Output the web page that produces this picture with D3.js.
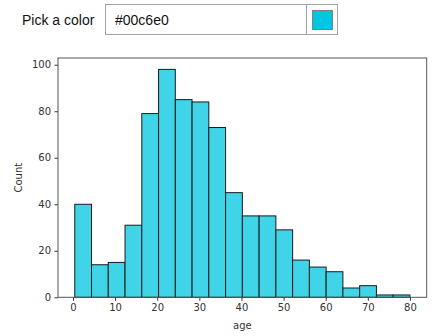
<!DOCTYPE html>
<html>
<head>
<meta charset="utf-8">
<script src="https://cdn.jsdelivr.net/npm/d3@7"></script>
<style>
  html, body { margin: 0; padding: 0; background: #fff; }
  svg { display: block; }
</style>
</head>
<body>
<svg id="chart" width="437" height="336"></svg>
<script>
// ---- data ----
const pickedColor = "#00c6e0";
const binStart = 0.42;
const binEnd = 80;
const binCount = 20;
const counts = [40, 14, 15, 31, 79, 98, 85, 84, 73, 45, 35, 35, 29, 16, 13, 11, 4, 5, 1, 1];
const xTicks = [0, 10, 20, 30, 40, 50, 60, 70, 80];
const yTicks = [0, 20, 40, 60, 80, 100];
const xLabel = "age";
const yLabel = "Count";
const widgetLabel = "Pick a color";

const binWidth = (binEnd - binStart) / binCount;
const bins = counts.map((c, i) => ({ x0: binStart + i * binWidth, x1: binStart + (i + 1) * binWidth, count: c }));

const svg = d3.select("#chart");

// ---- color picker widget ----
const w = svg.append("g");
w.append("text").attr("x", 22).attr("y", 25)
  .attr("font-family", "Liberation Sans, Arial, sans-serif").attr("font-size", 14)
  .attr("fill", "#111").text(widgetLabel);
w.append("rect").attr("x", 105.5).attr("y", 4.5).attr("width", 232).attr("height", 30)
  .attr("fill", "#fff").attr("stroke", "#a0a0a0").attr("stroke-width", 1);
w.append("line").attr("x1", 306.5).attr("x2", 306.5).attr("y1", 4.5).attr("y2", 34.5)
  .attr("stroke", "#a0a0a0");
w.append("text").attr("x", 115).attr("y", 25)
  .attr("font-family", "Liberation Sans, Arial, sans-serif").attr("font-size", 14)
  .attr("fill", "#111").text(pickedColor);
w.append("rect").attr("x", 312.5).attr("y", 10.5).attr("width", 20).attr("height", 19)
  .attr("fill", pickedColor).attr("stroke", "#808080").attr("stroke-width", 1);

// ---- chart ----
const pL = 58, pR = 426.7, pT = 58, pB = 297.3;
const span = binEnd - binStart;
const x = d3.scaleLinear().domain([binStart - 0.05 * span, binEnd + 0.05 * span]).range([pL, pR]);
const yMax = d3.max(counts) * 1.05;
const y = d3.scaleLinear().domain([0, yMax]).range([pB, pT]);

const col = d3.color(pickedColor);
const fill = d3.rgb(col.r * 0.75 + 255 * 0.25, col.g * 0.75 + 255 * 0.25, col.b * 0.75 + 255 * 0.25);

svg.append("g").selectAll("rect").data(bins).join("rect")
  .attr("x", d => x(d.x0))
  .attr("y", d => y(d.count))
  .attr("width", d => x(d.x1) - x(d.x0))
  .attr("height", d => y(0) - y(d.count))
  .attr("fill", fill.formatHex())
  .attr("stroke", "#1a1a1a")
  .attr("stroke-width", 1);

const font = "DejaVu Sans, sans-serif";
const xAxis = svg.append("g").attr("transform", `translate(0,${pB})`)
  .call(d3.axisBottom(x).tickValues(xTicks).tickSize(3.5).tickPadding(3.5).tickFormat(d3.format("d")));
const yAxis = svg.append("g").attr("transform", `translate(${pL},0)`)
  .call(d3.axisLeft(y).tickValues(yTicks).tickSize(3.5).tickPadding(3.5).tickFormat(d3.format("d")));
[xAxis, yAxis].forEach(a => {
  a.select(".domain").remove();
  a.selectAll(".tick line").attr("stroke", "#333");
  a.selectAll(".tick text").attr("font-family", font).attr("font-size", 10).attr("fill", "#333");
});

// spines
svg.append("rect").attr("x", pL).attr("y", pT).attr("width", pR - pL).attr("height", pB - pT)
  .attr("fill", "none").attr("stroke", "#555").attr("stroke-width", 1);

svg.append("text").attr("x", (pL + pR) / 2).attr("y", 329).attr("text-anchor", "middle")
  .attr("font-family", font).attr("font-size", 10).attr("fill", "#333").text(xLabel);
svg.append("text").attr("transform", `translate(22,${(pT + pB) / 2}) rotate(-90)`)
  .attr("text-anchor", "middle")
  .attr("font-family", font).attr("font-size", 10).attr("fill", "#333").text(yLabel);
</script>
</body>
</html>
